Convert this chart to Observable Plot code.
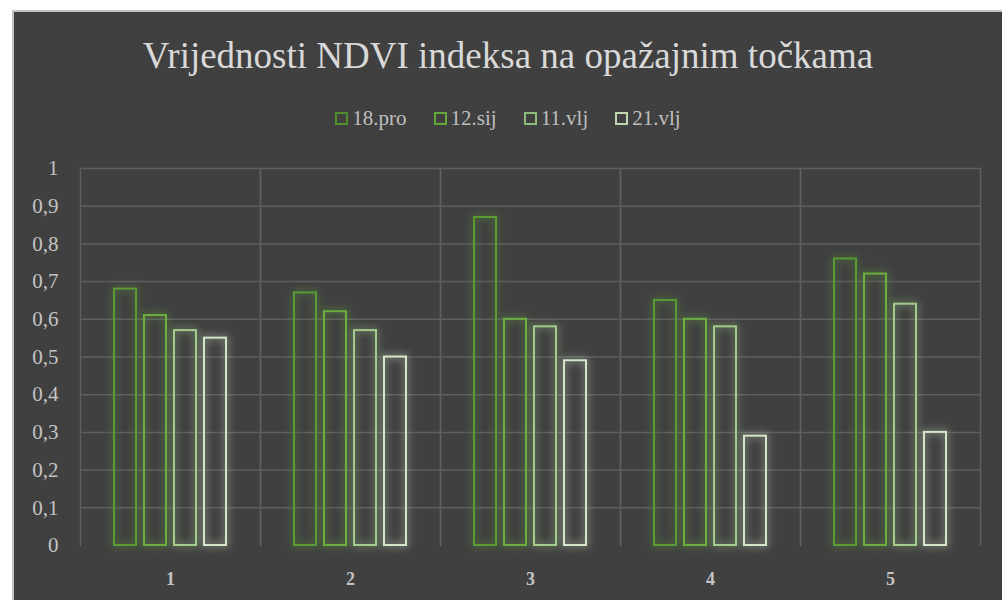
<!DOCTYPE html>
<html>
<head>
<meta charset="utf-8">
<script src="https://cdn.jsdelivr.net/npm/d3@7"></script>
<script src="https://cdn.jsdelivr.net/npm/@observablehq/plot@0.6"></script>
<style>
  html, body { margin: 0; padding: 0; background: #ffffff; }
  #card {
    position: absolute; left: 12px; top: 10px; width: 988px; height: 588px;
    background: #404040; border-top: 2px solid #c4c4c4; border-left: 2px solid #c4c4c4;
    font-family: 'Liberation Serif'; overflow: hidden;
  }
  #title {
    position: absolute; left: 0; width: 988px; top: 23px; text-align: center;
    font-family: 'Liberation Serif'; font-size: 37px; color: #d9d9d9; line-height: 42px;
  }
  #legend {
    position: absolute; left: 0; width: 988px; top: 93px; display: flex; justify-content: center;
    gap: 27px; font-family: 'Liberation Serif'; font-size: 21px; color: #bfbfbf; line-height: 26px;
  }
  #legend .item { display: flex; align-items: center; gap: 4px; }
  #legend .sw { width: 9px; height: 9px; border: 2px solid; }
  #chart { position: absolute; left: 0; top: 121px; }
  #chart svg text { font-family: 'Liberation Serif'; }
</style>
</head>
<body>
<div id="card">
  <div id="title">Vrijednosti NDVI indeksa na opažajnim točkama</div>
  <div id="legend"></div>
  <div id="chart"></div>
</div>
<script>
const points = ["1", "2", "3", "4", "5"];
const series = ["18.pro", "12.sij", "11.vlj", "21.vlj"];
const v18pro = [0.68, 0.67, 0.87, 0.65, 0.76];
const v12sij = [0.61, 0.62, 0.60, 0.60, 0.72];
const v11vlj = [0.57, 0.57, 0.58, 0.58, 0.64];
const v21vlj = [0.55, 0.50, 0.49, 0.29, 0.30];
const yTicks = [0, 0.1, 0.2, 0.3, 0.4, 0.5, 0.6, 0.7, 0.8, 0.9, 1];
const colors = ["#5b9b36", "#6cae40", "#a2cb8c", "#d3e6c9"];
const legendColors = ["#4f8f2c", "#63a83a", "#8cbb7a", "#bcd6ad"];

const valuesBySeries = [v18pro, v12sij, v11vlj, v21vlj];
const data = [];
points.forEach((p, i) => series.forEach((s, j) => data.push({point: p, series: s, value: valuesBySeries[j][i]})));

// legend
const leg = document.getElementById("legend");
series.forEach((s, j) => {
  const it = document.createElement("div"); it.className = "item";
  const sw = document.createElement("div"); sw.className = "sw"; sw.style.borderColor = legendColors[j];
  const t = document.createElement("span"); t.textContent = s;
  it.appendChild(sw); it.appendChild(t); leg.appendChild(it);
});

const fmt = d => d3.format(".1~f")(d).replace(".", ",");

const chart = Plot.plot({
  width: 988,
  height: 467,
  marginLeft: 66,
  marginRight: 22,
  marginTop: 35,
  marginBottom: 55,
  style: {background: "transparent", color: "#c4c4c4", fontFamily: "'Liberation Serif'", fontSize: "18px", overflow: "visible"},
  fx: {domain: points, padding: 0, label: null, axis: "bottom", tickSize: 0, tickPadding: 27},
  x: {domain: series, paddingInner: 0.267, paddingOuter: 1.133, axis: null},
  y: {domain: [0, 1], ticks: yTicks, tickFormat: fmt, label: null, tickSize: 0, tickPadding: 22},
  color: {domain: series, range: colors},
  marks: [
    Plot.gridY(yTicks.filter(d => d > 0), {stroke: "#5e5e5e", strokeOpacity: 1, strokeWidth: 1.5}),
    Plot.frame({anchor: "left", stroke: "#5e5e5e", strokeWidth: 1.5}),
    Plot.frame({anchor: "right", stroke: "#5e5e5e", strokeWidth: 1.5}),
    Plot.barY(data, {fx: "point", x: "series", y: "value", stroke: "series", fill: "#404040", fillOpacity: 0, strokeWidth: 2, className: "glowbar"})
  ]
});
document.getElementById("chart").appendChild(chart);

// glow effect
d3.select(chart).selectAll(".glowbar rect").each(function() {
  const c = this.getAttribute("stroke");
  this.style.filter = `drop-shadow(0 0 4px ${c})`;
});
// axis label styling
d3.select(chart).selectAll("[aria-label='fx-axis tick label'] text").style("font-weight", "bold");
d3.select(chart).selectAll("[aria-label='y-axis tick label'] text").style("font-size", "21px");
</script>
</body>
</html>
